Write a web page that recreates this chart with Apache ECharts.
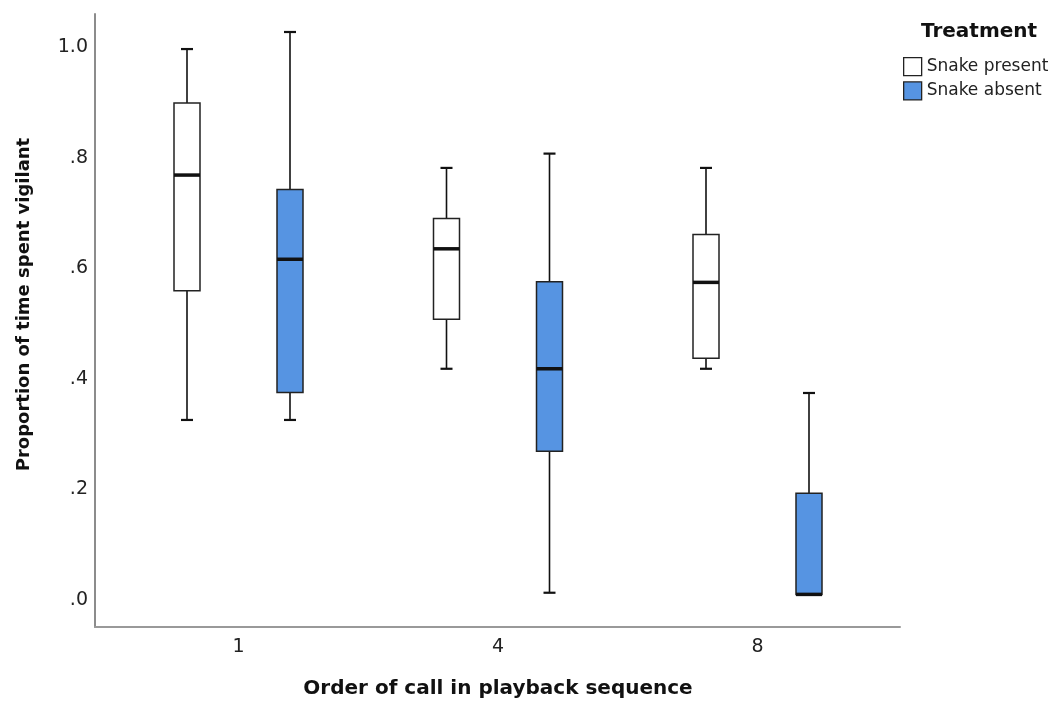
<!DOCTYPE html>
<html lang="en">

<head>
	<meta charset="UTF-8">
	<title>Vigilance boxplot</title>
	<script src="https://cdn.jsdelivr.net/npm/echarts@6/dist/echarts.min.js"></script>
</head>

<body style="margin:0;background:#fff;">
	<div id="main" style="width: 1052px;height: 704px;"></div>
</body>

<script>
	const categories = ['1', '4', '8']
	const groupNames = ['Snake present', 'Snake absent']
	const yTicks = [0, 0.2, 0.4, 0.6, 0.8, 1.0]
	const yTickLabels = ['.0', '.2', '.4', '.6', '.8', '1.0']

	// five-number summaries: [min, Q1, median, Q3, max]
	const snakePresent = [
		[0.322, 0.557, 0.767, 0.898, 0.996],
		[0.415, 0.505, 0.633, 0.688, 0.780],
		[0.415, 0.434, 0.572, 0.659, 0.780]
	]
	const snakeAbsent = [
		[0.322, 0.372, 0.614, 0.741, 1.027],
		[0.008, 0.265, 0.415, 0.573, 0.806],
		[0.005, 0.005, 0.005, 0.189, 0.371]
	]

	const yMin = -0.0488
	const yMax = 1.0597
	const font = 'DejaVu Sans'
	const fills = ['#ffffff', '#5694e2']

	let mcharts = echarts.init(document.getElementById('main'))

	function boxRenderer(offset, fill) {
		return function (params, api) {
			const i = api.value(0)
			const cx = api.coord([i, 0])[0] + offset
			const y = [1, 2, 3, 4, 5].map(d => api.coord([i, api.value(d)])[1])
			const half = 13, cap = 6
			const line = (x1, y1, x2, y2, w) => ({
				type: 'line', shape: { x1, y1, x2, y2 },
				style: { stroke: '#111', lineWidth: w }
			})
			return {
				type: 'group',
				children: [
					line(cx, y[4], cx, y[3], 1.6),
					line(cx, y[1], cx, y[0], 1.6),
					line(cx - cap, y[4], cx + cap, y[4], 2.2),
					line(cx - cap, y[0], cx + cap, y[0], 2.2),
					{
						type: 'rect',
						shape: { x: cx - half, y: y[3], width: half * 2, height: y[1] - y[3] },
						style: { fill: fill, stroke: '#222', lineWidth: 1.5 }
					},
					line(cx - half, y[2], cx + half, y[2], 3.5) // median
				]
			}
		}
	}

	const seriesData = [snakePresent, snakeAbsent]
	const offsets = [-51.5, 51.5]

	let option = {
		animation: false,
		title: {
			text: 'Treatment',
			left: 921,
			top: 22,
			padding: 0,
			textStyle: { fontFamily: font, fontSize: 20, fontWeight: 'bold', color: '#111' }
		},
		legend: {
			orient: 'vertical',
			left: 903,
			top: 57,
			padding: 0,
			itemWidth: 18,
			itemHeight: 18,
			itemGap: 5,
			icon: 'rect',
			selectedMode: false,
			textStyle: { fontFamily: font, fontSize: 17, color: '#222' },
			data: groupNames.map((name, k) => ({
				name: name,
				itemStyle: { color: fills[k], borderColor: '#222', borderWidth: 1.3 }
			}))
		},
		grid: [
			{ left: 95, right: 152, top: 14, bottom: 77 },
			{ left: 108.75, right: 164.75, top: 14, bottom: 77 }
		],
		xAxis: [
			{
				gridIndex: 0,
				type: 'category',
				data: categories,
				axisLine: { onZero: false, lineStyle: { color: '#999', width: 2 } },
				axisTick: { show: false },
				axisLabel: { show: false }
			},
			{
				gridIndex: 1,
				type: 'category',
				data: categories,
				axisLine: { show: false, onZero: false },
				axisTick: { show: false },
				axisLabel: { fontFamily: font, fontSize: 19, color: '#222', margin: 14 },
				name: 'Order of call in playback sequence',
				nameLocation: 'middle',
				nameGap: 55,
				nameTextStyle: { fontFamily: font, fontSize: 20, fontWeight: 'bold', color: '#111' }
			}
		],
		yAxis: [
			{
				gridIndex: 0,
				type: 'value',
				min: yMin,
				max: yMax,
				splitLine: { show: false },
				axisTick: { show: false },
				axisLine: { show: true, lineStyle: { color: '#8c8c8c', width: 2 } },
				axisLabel: {
					fontFamily: font, fontSize: 19, color: '#222', margin: 7,
					formatter: function (v) {
						const k = yTicks.findIndex(t => Math.abs(t - v) < 1e-6)
						return k < 0 ? '' : yTickLabels[k]
					}
				},
				name: 'Proportion of time spent vigilant',
				nameLocation: 'middle',
				nameGap: 62,
				nameTextStyle: { fontFamily: font, fontSize: 18, fontWeight: 'bold', color: '#111', padding: [0, 0, 0, 32] }
			},
			{ gridIndex: 1, type: 'value', min: yMin, max: yMax, show: false }
		],
		series: groupNames.map((name, k) => ({
			name: name,
			type: 'custom',
			xAxisIndex: 1,
			yAxisIndex: 1,
			itemStyle: { color: fills[k], borderColor: '#222' },
			encode: { x: 0, y: [1, 2, 3, 4, 5] },
			renderItem: boxRenderer(offsets[k], fills[k]),
			data: seriesData[k].map((s, i) => [i].concat(s))
		}))
	}

	mcharts.setOption(option)
</script>

</html>
